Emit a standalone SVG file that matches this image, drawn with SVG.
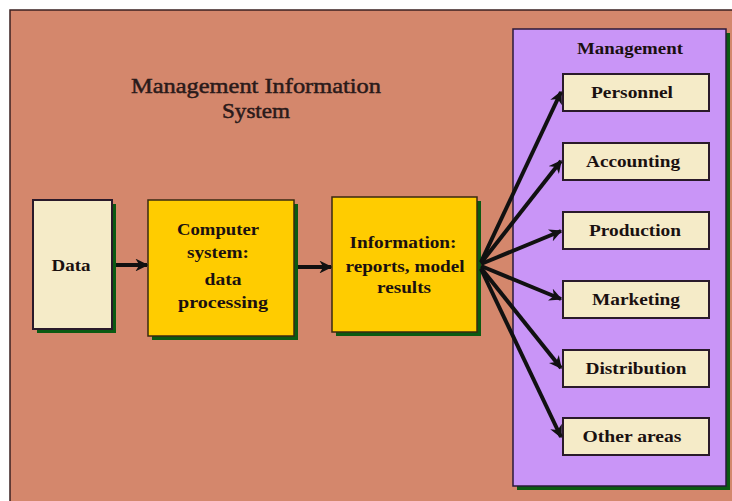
<svg xmlns="http://www.w3.org/2000/svg" width="732" height="501" viewBox="0 0 732 501">
  <defs>
    <marker id="head" viewBox="0 0 10 10" refX="9" refY="5" markerWidth="3.2" markerHeight="3.2" markerUnits="strokeWidth" orient="auto">
      <path d="M0,0 L10,5 L0,10 L3,5 Z" fill="#111"/>
    </marker>
    <style>
      .shadow { fill: #0b5a12; }
      .cream { fill: #f5ebc8; stroke: #2a1a2a; stroke-width: 2; }
      .gold { fill: #ffcc00; stroke: #3a2a10; stroke-width: 1.5; }
      .panel { fill: #c995f7; stroke: #2a1a3a; stroke-width: 1.5; }
      .lbl { font-family: "Liberation Serif", "Times New Roman", serif; font-weight: bold; font-size: 16.5px; fill: #1a1010; text-anchor: middle; }
      .title { font-family: "Liberation Serif", "Times New Roman", serif; font-size: 22px; fill: #2a1a1a; stroke: #2a1a1a; stroke-width: 0.5; text-anchor: middle; }
      .wire { stroke: #111; stroke-width: 4; fill: none; marker-end: url(#head); }
    </style>
  </defs>

  <!-- page -->
  <rect x="0" y="0" width="732" height="501" fill="#ffffff"/>
  <rect x="10" y="10" width="724" height="494" fill="#d4876c" stroke="#3a2020" stroke-width="1.5"/>

  <!-- title -->
  <g id="title">
    <text class="title" x="256" y="93" textLength="250" lengthAdjust="spacingAndGlyphs">Management Information</text>
    <text class="title" x="256" y="118" textLength="68" lengthAdjust="spacingAndGlyphs">System</text>
  </g>

  <!-- management panel -->
  <g id="management">
    <rect class="shadow" x="517" y="33" width="213" height="457"/>
    <rect class="panel" x="513" y="29" width="213" height="457"/>
    <text class="lbl" x="630" y="54" textLength="106" lengthAdjust="spacingAndGlyphs">Management</text>
  </g>

  <g id="data">
    <rect class="shadow" x="37" y="204" width="79" height="129"/>
    <rect class="cream" x="33" y="200" width="79" height="129"/>
    <text class="lbl" x="71" y="271" textLength="39" lengthAdjust="spacingAndGlyphs">Data</text>
  </g>

  <g id="computer">
    <rect class="shadow" x="152" y="204" width="146" height="136"/>
    <rect class="gold" x="148" y="200" width="146" height="136"/>
    <text class="lbl" x="218" y="235" textLength="82" lengthAdjust="spacingAndGlyphs">Computer</text>
    <text class="lbl" x="218" y="258" textLength="62" lengthAdjust="spacingAndGlyphs">system:</text>
    <text class="lbl" x="223" y="285" textLength="37" lengthAdjust="spacingAndGlyphs">data</text>
    <text class="lbl" x="223" y="308" textLength="90" lengthAdjust="spacingAndGlyphs">processing</text>
  </g>

  <g id="information">
    <rect class="shadow" x="336" y="201" width="145" height="135"/>
    <rect class="gold" x="332" y="197" width="145" height="135"/>
    <text class="lbl" x="403" y="248" textLength="107" lengthAdjust="spacingAndGlyphs">Information:</text>
    <text class="lbl" x="405" y="272" textLength="119" lengthAdjust="spacingAndGlyphs">reports, model</text>
    <text class="lbl" x="404" y="293" textLength="54" lengthAdjust="spacingAndGlyphs">results</text>
  </g>

  <g id="personnel">
    <rect class="cream" x="563" y="74" width="146" height="37"/>
    <text class="lbl" x="632" y="98" textLength="82" lengthAdjust="spacingAndGlyphs">Personnel</text>
  </g>
  <g id="accounting">
    <rect class="cream" x="563" y="143" width="146" height="37"/>
    <text class="lbl" x="633" y="167" textLength="94" lengthAdjust="spacingAndGlyphs">Accounting</text>
  </g>
  <g id="production">
    <rect class="cream" x="563" y="212" width="146" height="37"/>
    <text class="lbl" x="635" y="236" textLength="92" lengthAdjust="spacingAndGlyphs">Production</text>
  </g>
  <g id="marketing">
    <rect class="cream" x="563" y="281" width="146" height="37"/>
    <text class="lbl" x="636" y="305" textLength="88" lengthAdjust="spacingAndGlyphs">Marketing</text>
  </g>
  <g id="distribution">
    <rect class="cream" x="563" y="350" width="146" height="37"/>
    <text class="lbl" x="636" y="374" textLength="101" lengthAdjust="spacingAndGlyphs">Distribution</text>
  </g>
  <g id="other">
    <rect class="cream" x="563" y="418" width="146" height="37"/>
    <text class="lbl" x="632" y="442" textLength="99" lengthAdjust="spacingAndGlyphs">Other areas</text>
  </g>

  <!-- connectors -->
  <g id="connectors">
    <line class="wire" x1="116" y1="265" x2="147" y2="265"/>
    <line class="wire" x1="298" y1="267" x2="331" y2="267"/>
    <line class="wire" x1="481" y1="262" x2="561" y2="92"/>
    <line class="wire" x1="481" y1="263" x2="561" y2="161"/>
    <line class="wire" x1="481" y1="264" x2="561" y2="231"/>
    <line class="wire" x1="481" y1="266" x2="561" y2="299"/>
    <line class="wire" x1="481" y1="268" x2="561" y2="368"/>
    <line class="wire" x1="481" y1="269" x2="561" y2="437"/>
  </g>
</svg>
